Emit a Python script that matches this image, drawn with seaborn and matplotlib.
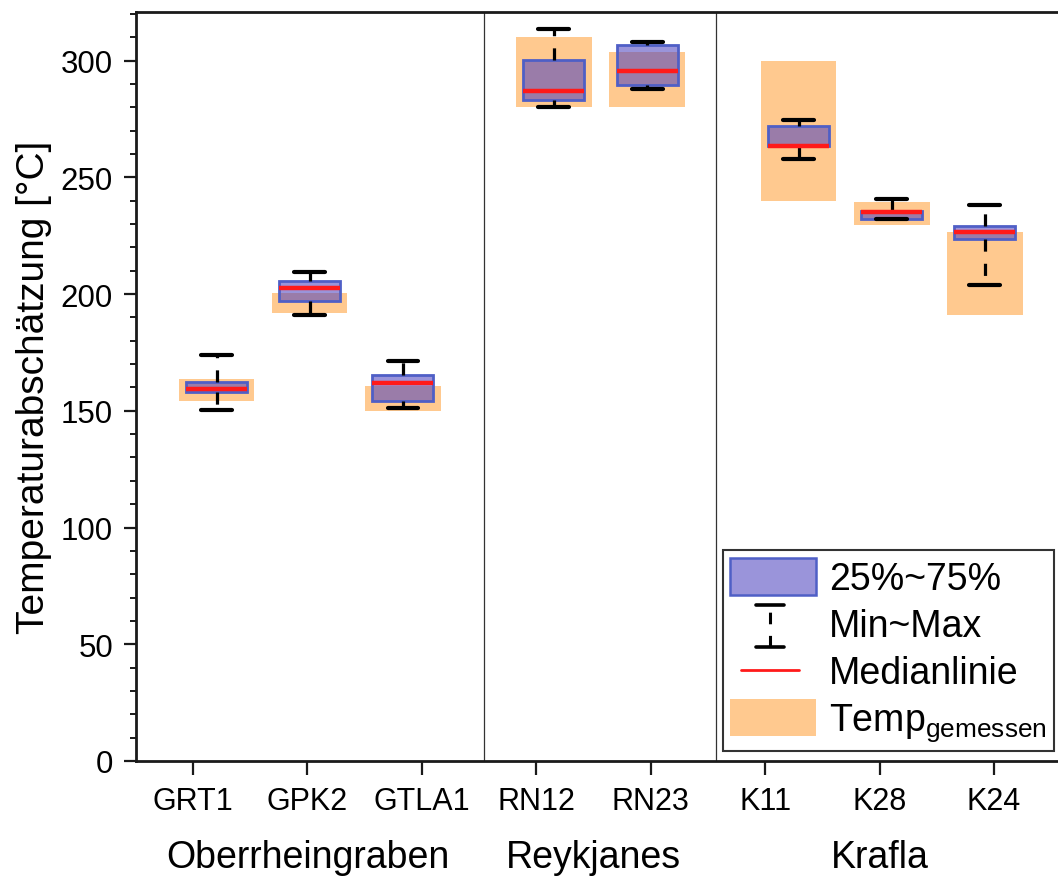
import numpy as np
import pandas as pd
import matplotlib
matplotlib.use("Agg")
import matplotlib.pyplot as plt
import seaborn as sns
from matplotlib.lines import Line2D
from matplotlib.patches import Patch
from matplotlib.legend_handler import HandlerBase
import matplotlib.transforms as mtransforms

# ---------------- data ----------------
wells = ["GRT1", "GPK2", "GTLA1", "RN12", "RN23", "K11", "K28", "K24"]
regions = ["Oberrheingraben", "Reykjanes", "Krafla"]
t_min = [150.4, 191.2, 151.4, 280.0, 288.0, 257.7, 232.3, 203.8]
t_q1 = [158.0, 197.1, 154.4, 283.3, 289.4, 263.4, 232.3, 223.5]
t_med = [159.4, 202.7, 162.0, 287.0, 295.7, 263.4, 235.3, 226.6]
t_q3 = [162.3, 205.4, 165.5, 300.1, 306.5, 271.8, 235.6, 229.2]
t_max = [174.0, 209.3, 171.2, 313.5, 308.0, 274.6, 240.6, 238.0]
meas_lo = [154.0, 191.8, 150.1, 280.0, 280.0, 240.0, 229.5, 191.0]
meas_hi = [163.4, 200.3, 160.5, 310.0, 303.7, 300.0, 239.4, 226.6]
y_ticks = [0, 50, 100, 150, 200, 250, 300]
legend_labels = ["25%~75%", "Min~Max", "Medianlinie", "Temp$_{\\mathregular{gemessen}}$"]
y_label = "Temperaturabschätzung [°C]"

# ---------------- layout ----------------
tick_pos = np.arange(len(wells))
box_pos = [0.207, 1.02, 1.834, 3.153, 3.970, 5.294, 6.107, 6.920]
region_pos = [1.0, 3.5, 6.0]
sep_pos = [2.545, 4.569]
box_w = 0.535
meas_w = 0.66

ORANGE = "#FFC98F"
BOX_FACE = (75 / 255, 65 / 255, 190 / 255, 0.56)
BOX_EDGE = "#4F5FC6"
MED = "#FF1A1A"
DASH = (0, (3.8, 3.8))
AX_COL = "#1a1a1a"

sns.set_theme(style="ticks")
plt.rcParams["font.family"] = ["Liberation Sans", "DejaVu Sans"]
plt.rcParams["mathtext.fontset"] = "custom"
plt.rcParams["mathtext.rm"] = "Liberation Sans"
plt.rcParams["text.color"] = "black"
plt.rcParams["axes.labelcolor"] = "black"
plt.rcParams["xtick.labelcolor"] = "black"
plt.rcParams["ytick.labelcolor"] = "black"

fig = plt.figure(figsize=(10.58, 8.78), dpi=100)
ax = fig.add_axes([136 / 1058, 1 - 762 / 878, 1 - 136 / 1058, (762 - 13) / 878])

# measured temperature ranges (orange)
ax.bar(box_pos, np.array(meas_hi) - np.array(meas_lo), bottom=meas_lo,
       width=meas_w, color=ORANGE, edgecolor="none", zorder=1)

# box plot data: five-number summary per well
rows = []
for p, a, b, c, d, e in zip(box_pos, t_min, t_q1, t_med, t_q3, t_max):
    for v in (a, b, c, d, e):
        rows.append({"pos": p, "temp": v})
df = pd.DataFrame(rows)

native = np.min(np.diff(sorted(box_pos)))
sns.boxplot(data=df, x="pos", y="temp", native_scale=True, whis=(0, 100),
            width=box_w / native, saturation=1, fliersize=0, ax=ax,
            boxprops=dict(facecolor=BOX_FACE, edgecolor=BOX_EDGE, linewidth=2.0, zorder=3),
            medianprops=dict(color=MED, linewidth=3.2, zorder=4),
            whiskerprops=dict(color="black", linewidth=2.3, linestyle=DASH, zorder=3),
            capprops=dict(color="black", linewidth=3.0, zorder=3))

for s in sep_pos:
    ax.axvline(s, color="#333333", linewidth=0.9, zorder=0.5)

ax.set_xlim(-0.498, 7.56)
ax.set_ylim(0, 320.8)
ax.set_xticks(tick_pos)
ax.set_xticklabels(wells)
ax.set_yticks(y_ticks)
ax.yaxis.set_minor_locator(matplotlib.ticker.MultipleLocator(10))
ax.set_xlabel("")
ax.set_ylabel(y_label, fontsize=28, labelpad=6, color="black")
ax.tick_params(axis="x", which="major", length=10, width=1.6, labelsize=22, pad=8,
               color=AX_COL, labelcolor="black")
ax.tick_params(axis="y", which="major", length=8.5, width=1.6, labelsize=22.5, pad=8,
               color=AX_COL, labelcolor="black")
ax.tick_params(axis="y", which="minor", length=4, width=1.4, color=AX_COL)
for side in ["left", "bottom", "top"]:
    ax.spines[side].set_linewidth(2.0)
    ax.spines[side].set_color(AX_COL)
ax.spines["right"].set_visible(False)

trans = mtransforms.blended_transform_factory(ax.transData, fig.transFigure)
for name, xp in zip(regions, region_pos):
    ax.text(xp, 20 / 878, name, transform=trans, ha="center", va="center",
            fontsize=27, color="black")


class HandlerIBeam(HandlerBase):
    def create_artists(self, legend, orig_handle, xdescent, ydescent, width, height, fontsize, trans):
        cx = width * 0.46 - xdescent
        top = height * 1.0 - ydescent
        bot = -height * 0.12 - ydescent
        cw = width * 0.16
        v = Line2D([cx, cx], [bot, top], color="black", lw=2.2, linestyle=DASH, transform=trans)
        c1 = Line2D([cx - cw, cx + cw], [top, top], color="black", lw=2.6, transform=trans)
        c2 = Line2D([cx - cw, cx + cw], [bot, bot], color="black", lw=2.6, transform=trans)
        return [v, c1, c2]


class HandlerShortLine(HandlerBase):
    def create_artists(self, legend, orig_handle, xdescent, ydescent, width, height, fontsize, trans):
        y = height / 2 - ydescent
        ln = Line2D([width * 0.12 - xdescent, width * 0.8 - xdescent], [y, y],
                    color=MED, lw=2.0, transform=trans)
        return [ln]


h_box = Patch(facecolor=BOX_FACE, edgecolor=BOX_EDGE, linewidth=1.8)
h_minmax = Line2D([], [])
h_med = Line2D([], [], color=MED)
h_meas = Patch(facecolor=ORANGE, edgecolor="none")
leg = ax.legend([h_box, h_minmax, h_med, h_meas], legend_labels,
                handler_map={h_minmax: HandlerIBeam(), h_med: HandlerShortLine()},
                loc="lower right", bbox_to_anchor=(0.9957, 0.0134), borderaxespad=0,
                fontsize=27, frameon=True, fancybox=False, framealpha=1,
                edgecolor="#333333", borderpad=0.2, handlelength=2.3, handleheight=1.17,
                handletextpad=0.33, labelspacing=0.2)
leg.get_frame().set_linewidth(1.5)
for t in leg.get_texts():
    t.set_color("black")

fig.savefig("out.png", dpi=100)
